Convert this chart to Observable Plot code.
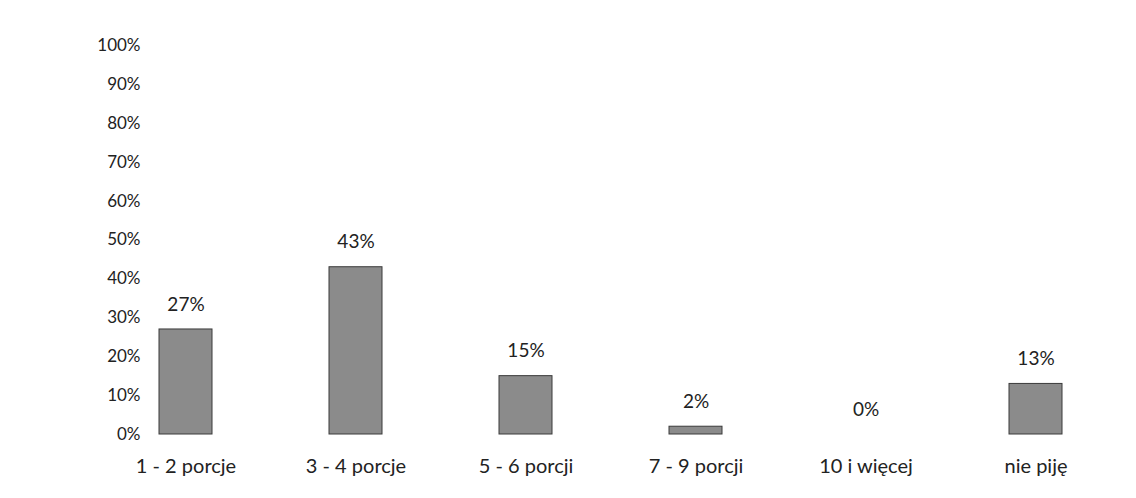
<!DOCTYPE html>
<html>
<head>
<meta charset="utf-8">
<script src="https://cdn.jsdelivr.net/npm/d3@7"></script>
<script src="https://cdn.jsdelivr.net/npm/@observablehq/plot@0.6"></script>
<style>
  html, body { margin: 0; padding: 0; background: #fff; }
  #chart { width: 1136px; height: 498px; }
</style>
</head>
<body>
<div id="chart"></div>
<script>
const categories = ["1 - 2 porcje", "3 - 4 porcje", "5 - 6 porcji", "7 - 9 porcji", "10 i więcej", "nie piję"];
const values = [27, 43, 15, 2, 0, 13];
const yTicks = [0, 10, 20, 30, 40, 50, 60, 70, 80, 90, 100];

const data = categories.map((c, i) => ({category: c, value: values[i]}));

const chart = Plot.plot({
  width: 1136,
  height: 498,
  marginLeft: 99,
  marginRight: 15,
  marginTop: 45,
  marginBottom: 64,
  style: {fontFamily: "Lato, sans-serif", fontSize: "17px", color: "#222", background: "#fff"},
  x: {domain: categories, paddingInner: 0.69, paddingOuter: 0.345, label: null},
  y: {domain: [0, 100], label: null},
  marks: [
    Plot.axisY({ticks: yTicks, tickSize: 0, tickPadding: 0, dx: 41, tickFormat: d => d + "%", fontSize: 17, label: null}),
    Plot.axisX({tickSize: 0, tickPadding: 24, fontSize: 20, label: null}),
    Plot.barY(data, {x: "category", y: "value", fill: "#8b8b8b", stroke: "#3a3a3a", strokeWidth: 1}),
    Plot.text(data, {x: "category", y: "value", text: d => d.value + "%", dy: -25, fontSize: 19, fill: "#222"})
  ]
});
document.getElementById("chart").appendChild(chart);
</script>
</body>
</html>
